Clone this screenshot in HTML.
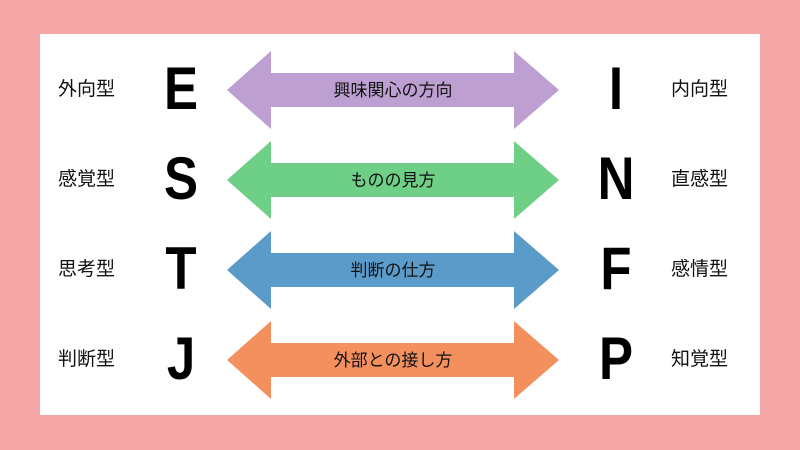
<!DOCTYPE html><html><head><meta charset="utf-8"><style>
body{margin:0;width:800px;height:450px;background:#f4a6a6;position:relative;overflow:hidden;font-family:"Liberation Sans","Noto Sans CJK JP",sans-serif}
.panel{position:absolute;left:40px;top:34px;width:720px;height:381px;background:#fff}
.t{position:absolute;font-size:19px;color:#111;line-height:24px;transform:translateY(-12px)}
.L{position:absolute;font-size:60px;font-weight:bold;line-height:60px;transform:translateY(-31px) scaleX(0.85);width:60px;text-align:center}
</style></head><body><div class="panel"></div>
<svg width="800" height="450" style="position:absolute;left:0;top:0" font-family="Liberation Sans, Noto Sans CJK JP, sans-serif">
<polygon points="227,90 271,51 271,73 514,73 514,51 559,90 514,129 514,107 271,107 271,129" fill="#bd9fd2"/>
<polygon transform="translate(0,90)" points="227,90 271,51 271,73 514,73 514,51 559,90 514,129 514,107 271,107 271,129" fill="#6ecf86"/>
<polygon transform="translate(0,180)" points="227,90 271,51 271,73 514,73 514,51 559,90 514,129 514,107 271,107 271,129" fill="#5a9bc9"/>
<polygon transform="translate(0,270)" points="227,90 271,51 271,73 514,73 514,51 559,90 514,129 514,107 271,107 271,129" fill="#f4905e"/>
<g font-size="17" text-anchor="middle" fill="#111">
<text x="393" y="96">興味関心の方向</text>
<text x="393" y="186">ものの見方</text>
<text x="393" y="276">判断の仕方</text>
<text x="393" y="366">外部との接し方</text></g>
</svg>
<div class="t" style="left:58px;top:90px">外向型</div>
<div class="t" style="left:58px;top:180px">感覚型</div>
<div class="t" style="left:58px;top:270px">思考型</div>
<div class="t" style="left:58px;top:360px">判断型</div>
<div class="t" style="left:671px;top:90px">内向型</div>
<div class="t" style="left:671px;top:180px">直感型</div>
<div class="t" style="left:671px;top:270px">感情型</div>
<div class="t" style="left:671px;top:360px">知覚型</div>
<div class="L" style="left:151px;top:90px">E</div>
<div class="L" style="left:151px;top:180px">S</div>
<div class="L" style="left:151px;top:270px">T</div>
<div class="L" style="left:151px;top:360px">J</div>
<div class="L" style="left:586px;top:90px">I</div>
<div class="L" style="left:586px;top:180px">N</div>
<div class="L" style="left:586px;top:270px">F</div>
<div class="L" style="left:586px;top:360px">P</div>
</body></html>
